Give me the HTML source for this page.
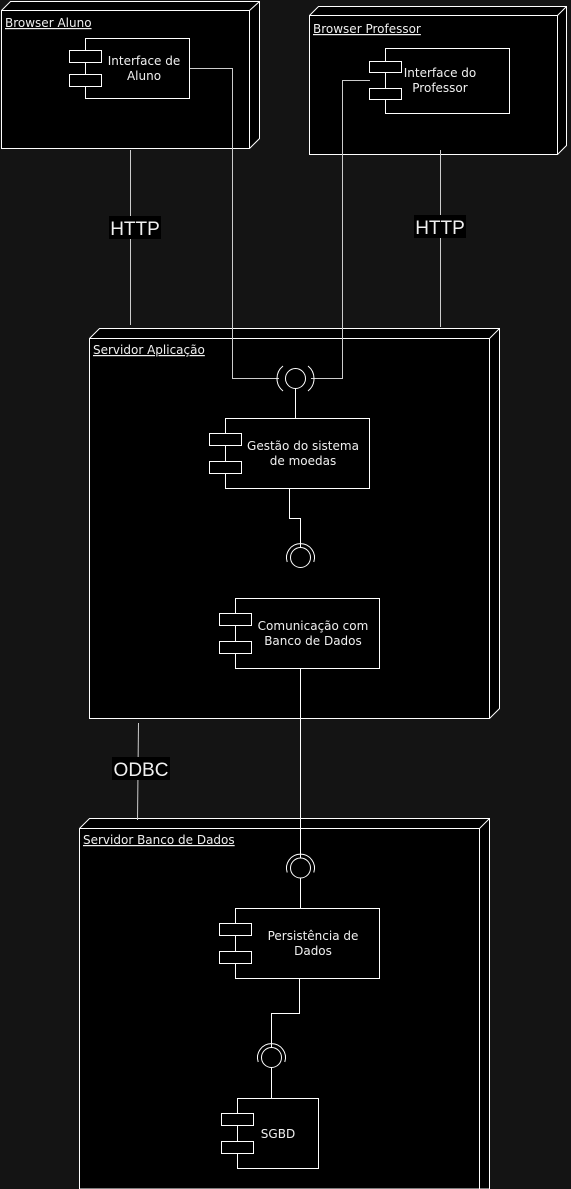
<!DOCTYPE html>
<html><head><meta charset="utf-8"><style>
html,body{margin:0;padding:0;background:#141414;}
svg{display:block;}
text{font-family:"DejaVu Sans","Liberation Sans",sans-serif;fill:#f0f0f0;}
</style></head><body>
<svg width="571" height="1189" viewBox="0 0 571 1189" xmlns="http://www.w3.org/2000/svg">
<rect width="571" height="1189" fill="#141414"/>
<g fill="#000" stroke="#fff" stroke-width="1">
<path d="M1.5 10.5 L10.5 1.5 L259.5 1.5 L259.5 138.5 L249.5 148.5 L1.5 148.5 Z"/>
<path d="M1.5 10.5 L249.5 10.5 L259.5 1.5 M249.5 10.5 L249.5 148.5" fill="none"/>
<path d="M309.5 15.5 L318.5 6.5 L566.5 6.5 L566.5 145.5 L557.5 154.5 L309.5 154.5 Z"/>
<path d="M309.5 15.5 L557.5 15.5 L566.5 6.5 M557.5 15.5 L557.5 154.5" fill="none"/>
<path d="M89.5 338.5 L99.5 328.5 L499.5 328.5 L499.5 708.5 L489.5 718.5 L89.5 718.5 Z"/>
<path d="M89.5 338.5 L489.5 338.5 L499.5 328.5 M489.5 338.5 L489.5 718.5" fill="none"/>
<path d="M79.5 828.5 L89.5 818.5 L489.5 818.5 L489.5 1189 L479.5 1189 L79.5 1189 Z"/>
<path d="M79.5 828.5 L479.5 828.5 L489.5 818.5 M479.5 828.5 L479.5 1189" fill="none"/>
</g>
<g font-size="12">
<text x="5" y="27" text-decoration="underline">Browser Aluno</text>
<text x="313" y="33" text-decoration="underline">Browser Professor</text>
<text x="93" y="354" text-decoration="underline">Servidor Aplicação</text>
<text x="83" y="844" text-decoration="underline">Servidor Banco de Dados</text>
</g>
<g stroke="#ccc" stroke-width="1" fill="none">
<path d="M130.5 150 L130.5 325"/>
<path d="M440.5 150 L440.5 327"/>
<path d="M138.5 723 L137.5 820"/>
<path d="M189 68.5 L232.5 68.5 L232.5 378.5 L279 378.5"/>
<path d="M370 80.5 L342.5 80.5 L342.5 378.5 L311 378.5"/>
</g>
<g stroke="#fff" stroke-width="1" fill="none">
<path d="M295.5 388 L295.5 418"/>
<path d="M289.5 488 L289.5 518.5 L300.5 518.5 L300.5 547"/>
<path d="M300.5 668 L300.5 858"/>
<path d="M300.5 878 L300.5 908"/>
<path d="M299.5 978 L299.5 1013.5 L271.5 1013.5 L271.5 1047"/>
<path d="M271.5 1067 L271.5 1098"/>
<circle cx="295.5" cy="378.5" r="10"/>
<path d="M283 366 A16 16 0 0 0 283 391"/>
<path d="M308 366 A16 16 0 0 1 308 391"/>
<circle cx="300.5" cy="557.5" r="10"/>
<path d="M287.2 562 A14 14 0 1 1 313.8 562"/>
<circle cx="300.5" cy="868" r="10"/>
<path d="M287.2 872.5 A14 14 0 1 1 313.8 872.5"/>
<circle cx="271.5" cy="1057.5" r="10"/>
<path d="M258.2 1062 A14 14 0 1 1 284.8 1062"/>
</g>
<g fill="#000" stroke="#fff" stroke-width="1">
<rect x="85.5" y="38.5" width="104" height="60"/><rect x="69.5" y="50.5" width="32" height="12"/><rect x="69.5" y="74.5" width="32" height="12"/>
<rect x="385.5" y="48.5" width="124" height="65"/><rect x="369.5" y="61.5" width="32" height="11"/><rect x="369.5" y="88.5" width="32" height="11"/>
<rect x="225.5" y="418.5" width="144" height="70"/><rect x="209.5" y="433.5" width="32" height="12"/><rect x="209.5" y="461.5" width="32" height="12"/>
<rect x="235.5" y="598.5" width="144" height="70"/><rect x="219.5" y="613.5" width="32" height="12"/><rect x="219.5" y="641.5" width="32" height="12"/>
<rect x="235.5" y="908.5" width="144" height="70"/><rect x="219.5" y="923.5" width="32" height="12"/><rect x="219.5" y="951.5" width="32" height="12"/>
<rect x="237.5" y="1098.5" width="81" height="70"/><rect x="221.5" y="1113.5" width="32" height="12"/><rect x="221.5" y="1141.5" width="32" height="12"/>
</g>
<g font-size="12" text-anchor="middle">
<text x="144" y="65">Interface de</text><text x="144" y="80">Aluno</text>
<text x="440" y="77">Interface do</text><text x="440" y="92">Professor</text>
<text x="303" y="450">Gestão do sistema</text><text x="303" y="465">de moedas</text>
<text x="313" y="630">Comunicação com</text><text x="313" y="645">Banco de Dados</text>
<text x="313" y="940">Persistência de</text><text x="313" y="955">Dados</text>
<text x="278" y="1138">SGBD</text>
</g>
<rect x="109" y="216" width="52" height="23" fill="#000"/>
<rect x="414" y="215" width="52" height="23" fill="#000"/>
<rect x="112" y="757" width="58" height="23" fill="#000"/>
<g font-size="19" text-anchor="middle">
<text x="135" y="235" style="font-family:'Liberation Sans',sans-serif">HTTP</text>
<text x="440" y="234" style="font-family:'Liberation Sans',sans-serif">HTTP</text>
<text x="141" y="776" style="font-family:'Liberation Sans',sans-serif">ODBC</text>
</g>
</svg>
</body></html>
